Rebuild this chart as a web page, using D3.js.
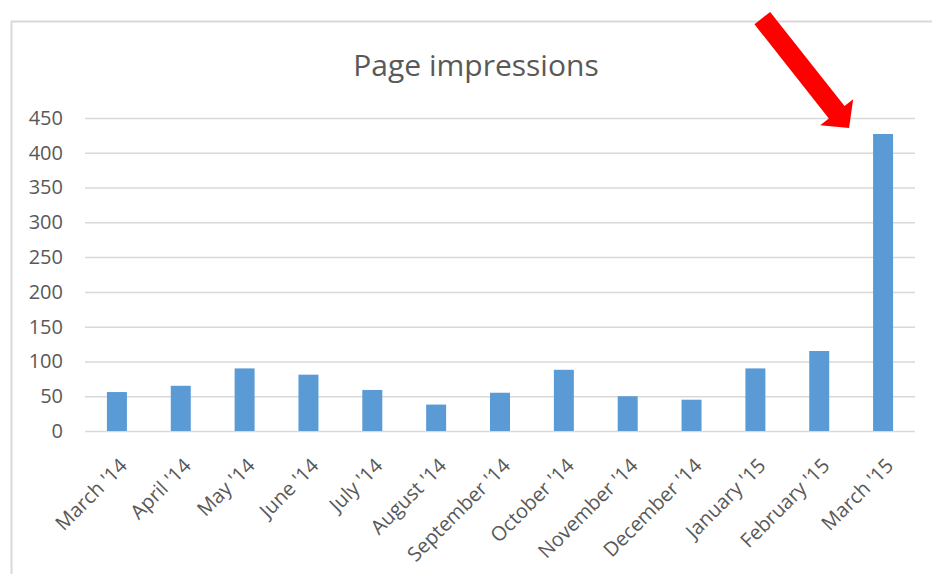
<!DOCTYPE html>
<html>
<head>
<meta charset="utf-8">
<script src="https://cdn.jsdelivr.net/npm/d3@7"></script>
<style>
  html, body { margin: 0; padding: 0; background: #fff; }
  svg { display: block; }
</style>
</head>
<body>
<div id="chart"></div>
<script>
// Monthly page impressions, March 2014 – March 2015
const months = ["March '14", "April '14", "May '14", "June '14", "July '14", "August '14",
  "September '14", "October '14", "November '14", "December '14", "January '15",
  "February '15", "March '15"];
const impressions = [56, 65, 90, 81, 59, 38, 55, 88, 50, 45, 90, 115, 427];
const yTicks = [0, 50, 100, 150, 200, 250, 300, 350, 400, 450];
const chartTitle = "Page impressions";
const highlightMonth = "March '15";

const W = 932, H = 574;
const margin = { top: 118, right: 17, bottom: 143, left: 85 };

const svg = d3.select("#chart").append("svg")
  .attr("width", W).attr("height", H);

// chart area frame (left and top edges visible)
svg.append("rect")
  .attr("x", 11.5).attr("y", 21.5)
  .attr("width", W + 20).attr("height", H + 20)
  .attr("fill", "#fff")
  .attr("stroke", "#d9d9d9").attr("stroke-width", 2);

const x = d3.scaleBand()
  .domain(months)
  .range([margin.left, W - margin.right])
  .paddingInner(0.687).paddingOuter(0.3435);

const y = d3.scaleLinear()
  .domain([0, 450])
  .range([H - margin.bottom, margin.top]);

const font = "'Open Sans', sans-serif";
const textColor = "#595959";

// horizontal gridlines + y labels
const yAxis = d3.axisLeft(y).tickValues(yTicks).tickSize(-(W - margin.left - margin.right)).tickPadding(22);
const gy = svg.append("g")
  .attr("transform", `translate(${margin.left},0)`)
  .call(yAxis);
gy.select(".domain").remove();
gy.selectAll(".tick line").attr("stroke", "#d9d9d9").attr("stroke-width", 1.5);
gy.selectAll(".tick text")
  .attr("fill", textColor)
  .style("font-family", font)
  .style("font-size", "20px");

// bars
svg.append("g").selectAll("rect")
  .data(months.map((m, i) => ({ month: m, value: impressions[i] })))
  .join("rect")
  .attr("x", d => x(d.month))
  .attr("y", d => y(d.value))
  .attr("width", x.bandwidth())
  .attr("height", d => y(0) - y(d.value))
  .attr("fill", "#5b9bd5");

// x axis labels rotated 45°
const xAxis = d3.axisBottom(x).tickSize(0).tickPadding(0);
const gx = svg.append("g")
  .attr("transform", `translate(0,${y(0)})`)
  .call(xAxis);
gx.select(".domain").remove();
gx.selectAll(".tick text")
  .attr("fill", textColor)
  .style("font-family", font)
  .style("font-size", "20px")
  .attr("text-anchor", "end")
  .attr("dy", 0)
  .attr("transform", "translate(11.5,36) rotate(-45)");

// title
svg.append("text")
  .attr("x", 476).attr("y", 76)
  .attr("text-anchor", "middle")
  .attr("fill", textColor)
  .style("font-family", font)
  .style("font-size", "30px")
  .text(chartTitle);

// red arrow pointing at the highlighted bar
const tipX = x(highlightMonth) + x.bandwidth() / 2 - 34;
const tipY = y(impressions[months.indexOf(highlightMonth)]) - 6;
const L = 140, shaftHalf = 10, headHalf = 21, headLen = 20;
const arrowShape = [
  [-L, -shaftHalf], [-headLen, -shaftHalf], [-headLen, -headHalf], [0, 0],
  [-headLen, headHalf], [-headLen, shaftHalf], [-L, shaftHalf]
];
svg.append("path")
  .attr("d", d3.line()(arrowShape) + "Z")
  .attr("fill", "#ff0000")
  .attr("transform", `translate(${tipX},${tipY}) rotate(51.7)`);
</script>
</body>
</html>
